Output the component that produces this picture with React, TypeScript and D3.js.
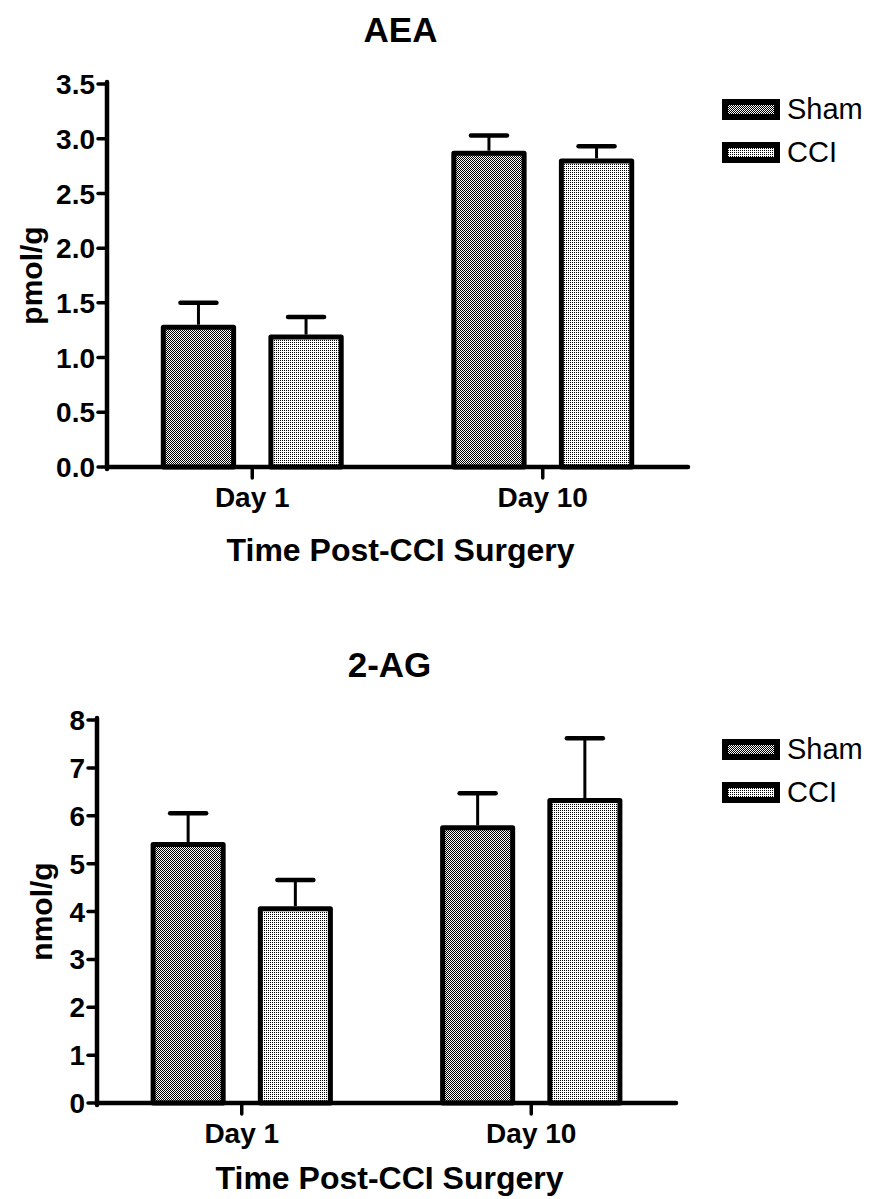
import * as d3 from 'd3'

const categories = ['Day 1', 'Day 10']
const series = ['Sham', 'CCI']

// AEA (pmol/g)
const aeaSham = [1.30, 2.89]
const aeaShamErr = [0.20, 0.14]
const aeaCci = [1.21, 2.82]
const aeaCciErr = [0.16, 0.11]
const aeaTicks = [0, 0.5, 1.0, 1.5, 2.0, 2.5, 3.0, 3.5]

// 2-AG (nmol/g)
const agSham = [5.45, 5.80]
const agShamErr = [0.60, 0.67]
const agCci = [4.11, 6.37]
const agCciErr = [0.55, 1.25]
const agTicks = [0, 1, 2, 3, 4, 5, 6, 7, 8]

const FONT = '"Liberation Sans", Arial, Helvetica, sans-serif'
const fills = { Sham: 'url(#checker)', CCI: 'url(#dots)' }

type PanelProps = {
  title: string
  yLabel: string
  ticks: number[]
  fmt: (v: number) => string
  values: number[][]
  errors: number[][]
  x0: number
  x1: number
  yTop: number
  yBot: number
  legendY: number
  titleY: number
  yLabelX: number
  xTitleY: number
}

const Panel = ({ title, yLabel, ticks, fmt, values, errors, x0, x1, yTop, yBot, legendY, titleY, yLabelX, xTitleY }: PanelProps) => {
  const y = d3.scaleLinear().domain([0, d3.max(ticks)!]).range([yBot, yTop])
  const xOuter = d3.scaleBand().domain(categories).range([x0, x1]).padding(0)
  const xInner = d3.scaleBand().domain(series).range([0, xOuter.bandwidth()])
    .paddingInner(0.3).paddingOuter(0.5)
  const bw = xInner.bandwidth()
  const midX = (x0 + x1) / 2 + 3

  return (
    <g>
      <text x={midX} y={titleY} textAnchor="middle" fontSize={35} fontWeight="bold">{title}</text>

      {/* bars */}
      {series.map((s, si) => categories.map((c, ci) => {
        const bx = xOuter(c)! + xInner(s)!
        const v = values[si][ci]
        const e = errors[si][ci]
        const cx = bx + bw / 2
        return (
          <g key={s + c}>
            <line x1={cx} x2={cx} y1={y(v)} y2={y(v + e)} stroke="black" strokeWidth={3} />
            <line x1={cx - 18} x2={cx + 18} y1={y(v + e)} y2={y(v + e)} stroke="black" strokeWidth={4.5} strokeLinecap="round" />
            <rect x={bx + 2.5} y={y(v) + 2.5} width={bw - 5} height={yBot - y(v) - 2.5}
              fill={fills[s as 'Sham' | 'CCI']} stroke="black" strokeWidth={5} strokeLinejoin="round" />
          </g>
        )
      }))}

      {/* y axis */}
      <line x1={x0} x2={x0} y1={yTop - 2} y2={yBot + 2} stroke="black" strokeWidth={4.5} strokeLinecap="round" />
      {ticks.map(t => (
        <g key={t}>
          <line x1={x0 - 9} x2={x0} y1={y(t)} y2={y(t)} stroke="black" strokeWidth={3.5} strokeLinecap="round" />
          <text x={x0 - 12} y={y(t)} dy="0.36em" textAnchor="end" fontSize={28} fontWeight="bold">{fmt(t)}</text>
        </g>
      ))}
      <text transform={`translate(${yLabelX},${(yTop + yBot) / 2}) rotate(-90)`} textAnchor="middle"
        fontSize={30} fontWeight="bold">{yLabel}</text>

      {/* x axis */}
      <line x1={x0} x2={x1} y1={yBot} y2={yBot} stroke="black" strokeWidth={4.5} strokeLinecap="round" />
      {categories.map(c => {
        const cx = xOuter(c)! + xOuter.bandwidth() / 2
        return (
          <g key={c}>
            <line x1={cx} x2={cx} y1={yBot} y2={yBot + 11} stroke="black" strokeWidth={3.5} strokeLinecap="round" />
            <text x={cx} y={yBot + 40} textAnchor="middle" fontSize={28} fontWeight="bold">{c}</text>
          </g>
        )
      })}
      <text x={midX} y={xTitleY} textAnchor="middle" fontSize={32} fontWeight="bold">Time Post-CCI Surgery</text>

      {/* legend */}
      {series.map((s, i) => (
        <g key={s} transform={`translate(722,${legendY + i * 43})`}>
          <rect x={3} y={3} width={52} height={15} fill={fills[s as 'Sham' | 'CCI']}
            stroke="black" strokeWidth={6} />
          <text x={65} y={20} fontSize={29}>{s}</text>
        </g>
      ))}
    </g>
  )
}

export default function App() {
  return (
    <svg width={871} height={1199} style={{ position: 'absolute', left: 0, top: 0, background: 'white' }}
      fontFamily={FONT}>
      <defs>
        <pattern id="checker" width={2} height={2} patternUnits="userSpaceOnUse">
          <rect width={2} height={2} fill="white" />
          <rect x={0} y={0} width={1} height={1} fill="black" shapeRendering="crispEdges" />
          <rect x={1} y={1} width={1} height={1} fill="black" shapeRendering="crispEdges" />
        </pattern>
        <pattern id="dots" width={2} height={2} patternUnits="userSpaceOnUse">
          <rect width={2} height={2} fill="white" />
          <rect x={0} y={0} width={1} height={1} fill="black" shapeRendering="crispEdges" />
        </pattern>
      </defs>
      <Panel title="AEA" yLabel="pmol/g" ticks={aeaTicks} fmt={d3.format('.1f')}
        values={[aeaSham, aeaCci]} errors={[aeaShamErr, aeaCciErr]}
        x0={107} x1={688} yTop={84} yBot={467} legendY={99} titleY={42} yLabelX={42} xTitleY={561} />
      <Panel title="2-AG" yLabel="nmol/g" ticks={agTicks} fmt={d3.format('d')}
        values={[agSham, agCci]} errors={[agShamErr, agCciErr]}
        x0={97} x1={676} yTop={720} yBot={1103} legendY={739} titleY={677} yLabelX={52} xTitleY={1189} />
    </svg>
  )
}
